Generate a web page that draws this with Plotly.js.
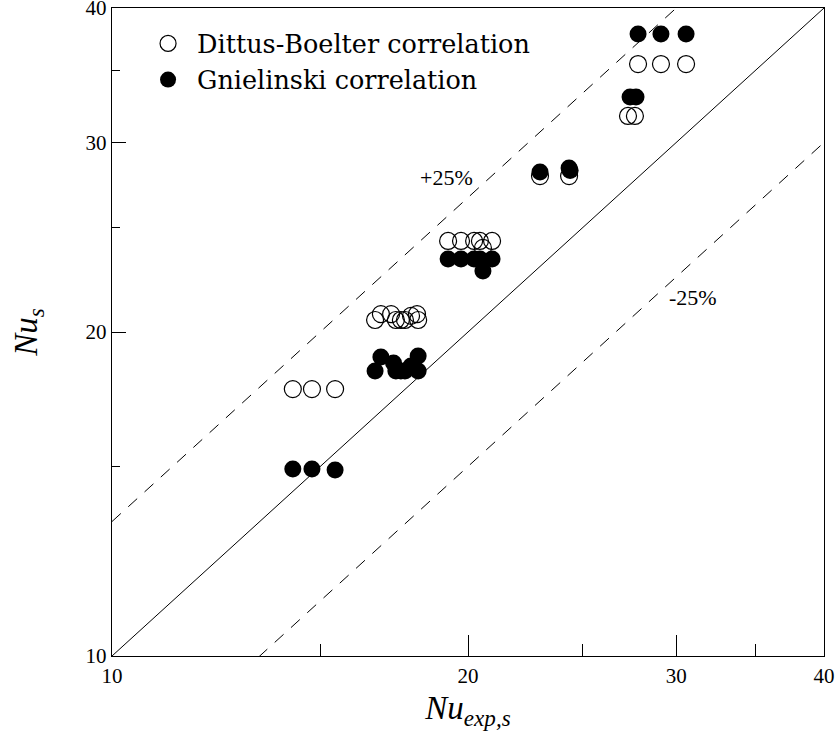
<!DOCTYPE html>
<html>
<head>
<meta charset="utf-8">
<script src="https://cdn.plot.ly/plotly-3.0.1.min.js"></script>
<style>html,body{margin:0;padding:0;background:#fff;}#chart{width:838px;height:731px;}</style>
</head>
<body>
<div id="chart"></div>
<script>
// Dittus-Boelter correlation (open circles)
const dbX = [14.22, 14.76, 15.44,
  16.69, 16.88, 17.22, 17.38, 17.55, 17.69, 17.90, 18.11, 18.15,
  19.24, 19.73, 20.24, 20.47, 20.59, 20.96,
  23.01, 24.35,
  27.85, 29.12, 30.58, 27.31, 27.68];
const dbY = [17.70, 17.70, 17.70,
  20.52, 20.78, 20.78, 20.52, 20.52, 20.52, 20.70, 20.78, 20.52,
  24.30, 24.30, 24.30, 24.30, 23.94, 24.30,
  27.92, 27.92,
  35.48, 35.48, 35.48, 31.75, 31.75];
// Gnielinski correlation (filled circles)
const gnX = [14.22, 14.76, 15.44,
  16.69, 16.88, 17.30, 17.38, 17.55, 17.69, 17.90, 18.15, 18.15,
  19.24, 19.73, 20.24, 20.47, 20.59, 20.96,
  23.01, 24.35, 24.40,
  27.85, 29.12, 30.58, 27.42, 27.74];
const gnY = [14.92, 14.92, 14.89,
  18.40, 18.96, 18.72, 18.40, 18.40, 18.40, 18.60, 19.00, 18.40,
  23.38, 23.38, 23.38, 23.38, 22.79, 23.38,
  28.16, 28.40, 28.25,
  37.84, 37.84, 37.84, 33.07, 33.07];
// reference lines: y = ratio * x
const refX = [10, 40];
const refRatios = [1, 1 / 0.75, 0.75];
const refDash = ['solid', '12px,10px', '12px,10px'];
const majorTicks = [10, 20, 30, 40];
const minorTicks = [15, 25, 35];
const refLabels = ['+25%', '-25%'];

const serif = 'Liberation Serif, Times New Roman, DejaVu Serif, serif';
const wideSerif = 'DejaVu Serif, Liberation Serif, serif';
const traces = [];
refRatios.forEach((r, i) => {
  traces.push({
    x: refX, y: refX.map(v => v * r), mode: 'lines', type: 'scatter',
    line: {color: '#000', width: 1, dash: refDash[i]},
    showlegend: false, hoverinfo: 'skip'
  });
});
traces.push({
  x: dbX, y: dbY, mode: 'markers', type: 'scatter', name: 'Dittus-Boelter correlation',
  marker: {symbol: 'circle-open', size: 17, color: '#000', line: {width: 1.2, color: '#000'}}
});
traces.push({
  x: gnX, y: gnY, mode: 'markers', type: 'scatter', name: 'Gnielinski correlation',
  marker: {symbol: 'circle', size: 17, color: '#000'}
});

const axisCommon = {
  type: 'log', showgrid: false, zeroline: false,
  showline: true, mirror: true, linecolor: '#000', linewidth: 1.3,
  ticks: 'inside', tickcolor: '#000', tickwidth: 1,
  tickmode: 'array', tickvals: majorTicks, ticktext: majorTicks.map(String),
  tickfont: {family: serif, size: 21, color: '#000'},
  ticklabeloverflow: 'allow',
  range: [1, Math.log10(40)]
};

const layout = {
  width: 838, height: 731,
  margin: {l: 112, r: 14, t: 8, b: 75},
  paper_bgcolor: '#fff', plot_bgcolor: '#fff',
  font: {family: serif, color: '#000'},
  showlegend: true,
  legend: {x: 0.038, y: 0.981, xanchor: 'left', yanchor: 'top', itemwidth: 48,
    font: {family: wideSerif, size: 25.5, color: '#000'}, bgcolor: 'rgba(0,0,0,0)', tracegroupgap: 0},
  xaxis: Object.assign({}, axisCommon, {
    ticklen: 21,
    minor: {tickmode: 'array', tickvals: minorTicks, ticks: 'inside', ticklen: 12, tickcolor: '#000', tickwidth: 1, showgrid: false},
    title: {text: '<i>Nu</i><sub><i>exp,s</i></sub>', font: {family: serif, size: 33, color: '#000'}, standoff: 14}
  }),
  yaxis: Object.assign({}, axisCommon, {
    ticklen: 14,
    minor: {tickmode: 'array', tickvals: minorTicks, ticks: 'inside', ticklen: 8, tickcolor: '#000', tickwidth: 1, showgrid: false},
    title: {text: '<i>Nu</i><sub><i>s</i></sub>', font: {family: serif, size: 33, color: '#000'}, standoff: 38}
  }),
  annotations: [
    {xref: 'paper', yref: 'paper', x: 0.4705, y: 0.7377, xanchor: 'center', yanchor: 'middle',
      text: refLabels[0], showarrow: false, font: {family: serif, size: 22, color: '#000'}},
    {xref: 'paper', yref: 'paper', x: 0.816, y: 0.5525, xanchor: 'center', yanchor: 'middle',
      text: refLabels[1], showarrow: false, font: {family: serif, size: 22, color: '#000'}}
  ]
};

Plotly.newPlot('chart', traces, layout, {displayModeBar: false, staticPlot: true});
</script>
</body>
</html>
